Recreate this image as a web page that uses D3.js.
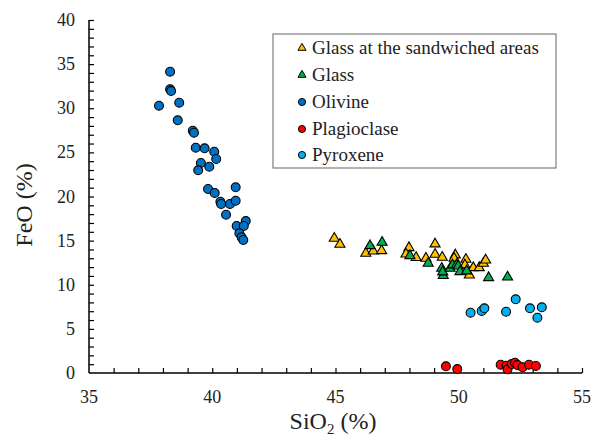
<!DOCTYPE html>
<html>
<head>
<meta charset="utf-8">
<script src="https://cdn.jsdelivr.net/npm/d3@7"></script>
<style>
  body { margin: 0; background: #fff; }
</style>
</head>
<body>
<svg width="597" height="436"></svg>
<script>
// SiO2 / FeO (%)
var sandwichedSiO2 = [44.95, 45.18, 46.23, 46.53, 46.87, 47.98, 47.86, 48.27, 49.04, 48.67, 49.04, 49.33, 49.86, 49.81, 50.29, 50.43, 50.25, 50.59, 50.83, 51.0, 51.09];
var sandwichedFeO  = [15.26, 14.58, 13.56, 13.82, 13.86, 14.2, 13.48, 13.07, 14.62, 13.0, 13.45, 13.11, 13.37, 13.0, 12.88, 11.1, 12.24, 11.93, 11.93, 12.43, 12.8];

var glassSiO2 = [46.4, 46.89, 48.02, 48.76, 49.31, 49.37, 49.35, 49.65, 49.75, 49.91, 49.98, 50.05, 50.32, 51.21, 51.98];
var glassFeO  = [14.42, 14.81, 13.29, 12.43, 11.86, 11.03, 11.45, 11.86, 12.24, 12.24, 12.12, 11.48, 11.56, 10.8, 10.86];

var olivineSiO2 = [38.29, 38.29, 38.33, 37.84, 38.66, 38.6, 39.21, 39.26, 39.33, 39.69, 40.08, 40.16, 39.54, 39.88, 39.43, 40.95, 39.83, 40.1, 40.33, 40.36, 40.72, 40.95, 40.56, 41.36, 40.99, 41.28, 41.1, 41.19, 41.26];
var olivineFeO  = [34.14, 32.15, 31.95, 30.29, 30.63, 28.63, 27.46, 27.23, 25.53, 25.46, 25.08, 24.25, 23.8, 23.38, 22.97, 21.04, 20.85, 20.4, 19.41, 19.15, 19.15, 19.52, 17.94, 17.22, 16.66, 16.66, 15.83, 15.38, 15.07];

var plagSiO2 = [49.48, 49.94, 51.7, 51.94, 51.98, 52.15, 52.28, 52.38, 52.59, 52.85, 53.13];
var plagFeO  = [0.76, 0.45, 0.94, 0.83, 0.42, 1.02, 1.17, 0.9, 0.65, 0.94, 0.8];

var pyroxeneSiO2 = [50.48, 50.93, 51.04, 51.92, 52.31, 52.89, 53.37, 53.19];
var pyroxeneFeO  = [6.83, 7.03, 7.33, 6.95, 8.35, 7.33, 7.44, 6.27];

var seriesNames = ['Glass at the sandwiched areas', 'Glass', 'Olivine', 'Plagioclase', 'Pyroxene'];
var seriesColors = ['#FFC000', '#00B050', '#0070C0', '#FF0000', '#00B0F0'];
var seriesShapes = ['triangle', 'triangle', 'circle', 'circle', 'circle'];

var xTicks = [35, 40, 45, 50, 55];
var yTicks = [0, 5, 10, 15, 20, 25, 30, 35, 40];

var series = [
  {x: sandwichedSiO2, y: sandwichedFeO},
  {x: glassSiO2, y: glassFeO},
  {x: olivineSiO2, y: olivineFeO},
  {x: plagSiO2, y: plagFeO},
  {x: pyroxeneSiO2, y: pyroxeneFeO}
];

var FONT = '"Times New Roman", "Liberation Serif", "DejaVu Serif", serif';

var svg = d3.select('svg');
var x = d3.scaleLinear().domain([35, 55]).range([89, 582]);
var y = d3.scaleLinear().domain([0, 40]).range([373, 20]);

// minor ticks every 1 unit, pointing inward
svg.append('g').attr('transform', 'translate(0,373)')
  .call(d3.axisTop(x).tickValues(d3.range(36, 56)).tickSize(5).tickFormat(''))
  .call(function(g) { g.select('.domain').remove(); g.selectAll('line').attr('stroke', '#000').attr('stroke-width', 1.2); });
svg.append('g').attr('transform', 'translate(89,0)')
  .call(d3.axisRight(y).tickValues(d3.range(1, 41)).tickSize(5).tickFormat(''))
  .call(function(g) { g.select('.domain').remove(); g.selectAll('line').attr('stroke', '#000').attr('stroke-width', 1.2); });

// axis lines
svg.append('line').attr('x1', 89).attr('x2', 89).attr('y1', y(40)).attr('y2', y(0)).attr('stroke', '#000').attr('stroke-width', 1.5);
svg.append('line').attr('x1', 89).attr('x2', x(55)).attr('y1', y(0)).attr('y2', y(0)).attr('stroke', '#000').attr('stroke-width', 1.5);

// tick labels
svg.selectAll('.xl').data(xTicks).enter().append('text').attr('class', 'xl')
  .attr('x', function(d) { return x(d); }).attr('y', 403)
  .attr('text-anchor', 'middle').attr('font-family', FONT).attr('font-size', 18).attr('fill', '#222')
  .text(function(d) { return d; });
svg.selectAll('.yl').data(yTicks).enter().append('text').attr('class', 'yl')
  .attr('x', 75).attr('y', function(d) { return y(d) + 6; })
  .attr('text-anchor', 'end').attr('font-family', FONT).attr('font-size', 18).attr('fill', '#222')
  .text(function(d) { return d; });

// axis titles
var xt = svg.append('text').attr('x', 333).attr('y', 429).attr('text-anchor', 'middle')
  .attr('font-family', FONT).attr('font-size', 24).attr('fill', '#222');
xt.append('tspan').text('SiO');
xt.append('tspan').attr('font-size', 15).attr('dy', 5).text('2');
xt.append('tspan').attr('dy', -5).text(' (%)');
svg.append('text').attr('transform', 'translate(32,205) rotate(-90)')
  .attr('text-anchor', 'middle').attr('font-family', FONT).attr('font-size', 24).attr('fill', '#222').text('FeO (%)');

var tri = d3.symbol().type(d3.symbolTriangle).size(44);
var circ = d3.symbol().type(d3.symbolCircle).size(62);

function drawMarker(sel, i) {
  sel.attr('d', seriesShapes[i] === 'triangle' ? tri() : circ())
    .attr('fill', seriesColors[i]).attr('stroke', '#000').attr('stroke-width', 1.1);
}

series.forEach(function(s, i) {
  svg.append('g').selectAll('path').data(s.x).enter().append('path')
    .attr('transform', function(d, j) { return 'translate(' + x(d) + ',' + y(s.y[j]) + ')'; })
    .call(drawMarker, i);
});

// legend
var lg = svg.append('g');
lg.append('rect').attr('x', 273).attr('y', 34).attr('width', 283).attr('height', 134)
  .attr('fill', '#fff').attr('stroke', '#7f7f7f').attr('stroke-width', 1.2);
var rows = [48, 75, 102, 129, 155];
seriesNames.forEach(function(n, i) {
  lg.append('path').attr('transform', 'translate(302,' + rows[i] + ')')
    .call(function(p) {
      p.attr('d', seriesShapes[i] === 'triangle' ? d3.symbol().type(d3.symbolTriangle).size(28)() : d3.symbol().type(d3.symbolCircle).size(40)())
        .attr('fill', seriesColors[i]).attr('stroke', '#000').attr('stroke-width', 1);
    });
  lg.append('text').attr('x', 312).attr('y', rows[i] + 6).attr('font-family', FONT).attr('font-size', 19).attr('fill', '#222').text(n);
});
</script>
</body>
</html>
